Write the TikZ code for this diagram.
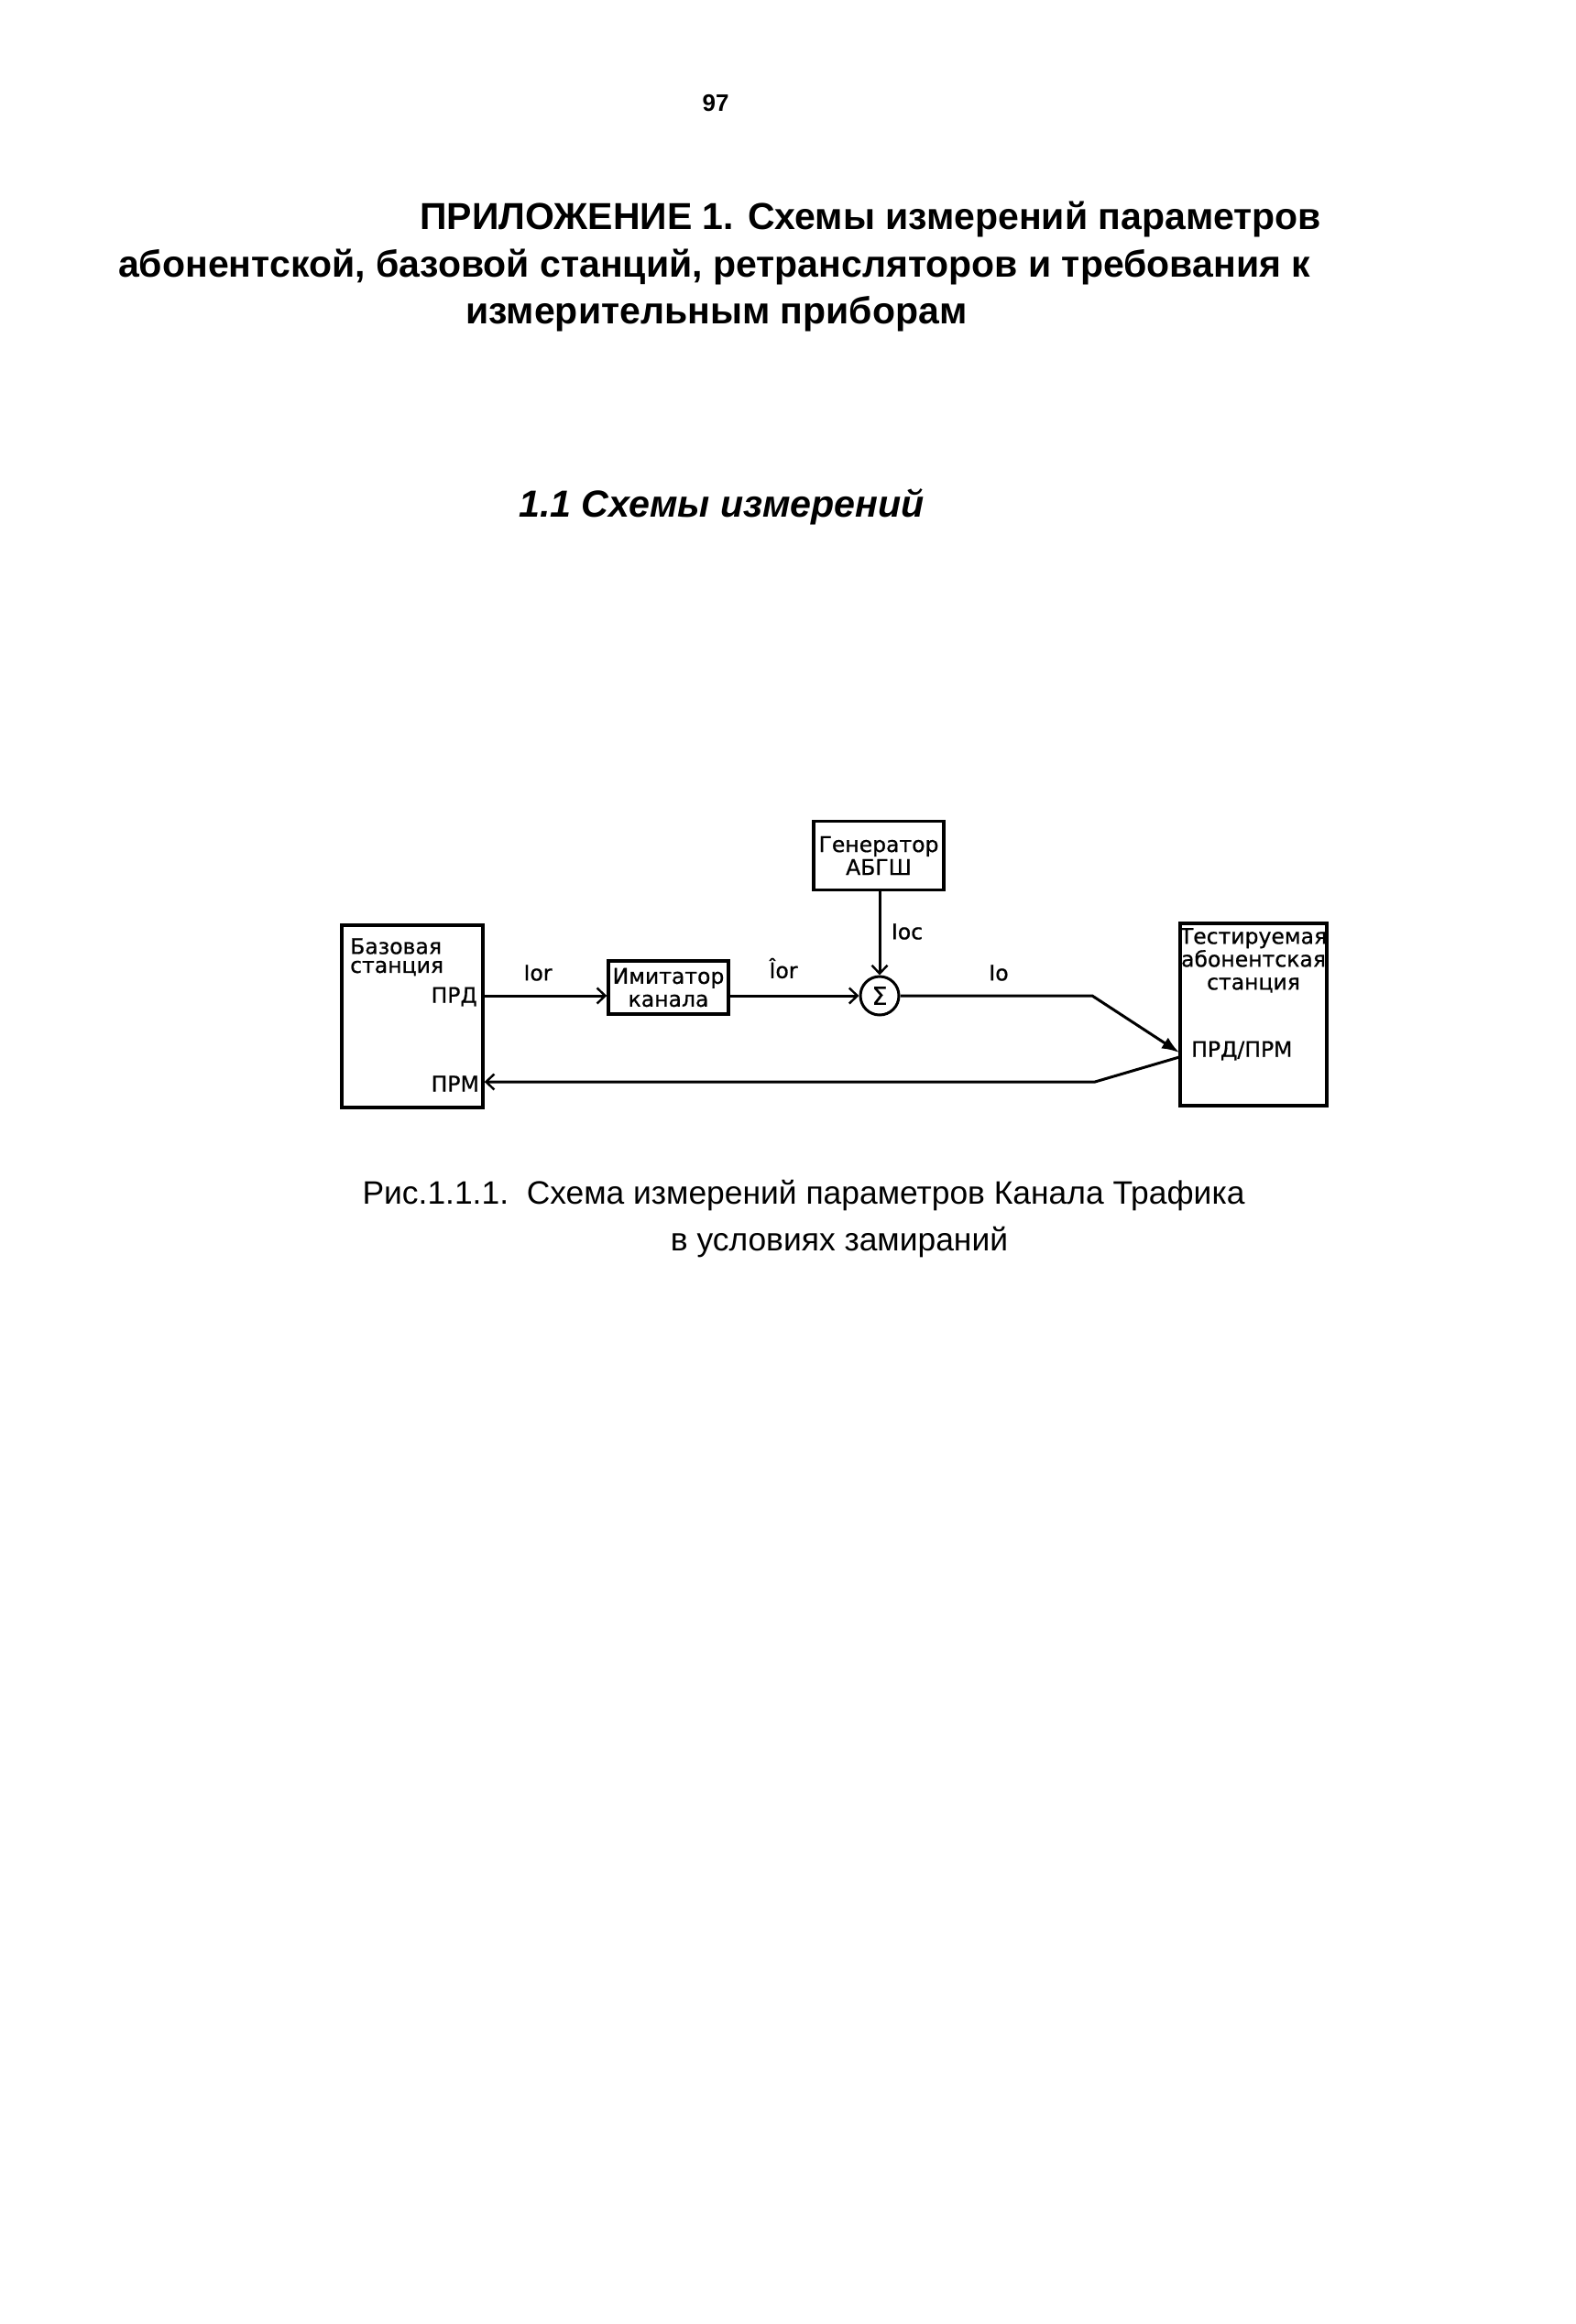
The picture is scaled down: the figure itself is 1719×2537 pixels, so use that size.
\documentclass[tikz,border=0pt]{standalone}
\usepackage{fontspec}
\setmainfont{Liberation Sans}
\newfontfamily\diagfont[FakeBold=0.7]{DejaVu Sans}
\usetikzlibrary{arrows.meta}
\begin{document}
\begin{tikzpicture}[x=1pt,y=-1pt,
  box/.style={draw,line width=3.4pt,inner sep=0pt,font=\diagfont\fontsize{23.5}{25}\selectfont,align=center},
  lab/.style={inner sep=0pt,font=\diagfont\fontsize{23.5}{25}\selectfont},
  conn/.style={line width=3pt},
  barb/.style={-{Straight Barb[length=9pt,width=17pt,line width=2.4pt]}},
  tri/.style={-{Latex[length=19pt,width=14pt]}},
  ttl/.style={inner sep=0pt,anchor=west,font=\bfseries\fontsize{41}{48}\selectfont},
  captext/.style={inner sep=0pt,font=\fontsize{35.4}{40}\selectfont}]
\useasboundingbox (0,0) rectangle (1719,2537);
\fill[white] (0,0) rectangle (1719,2537);
% page number and headings
\node[inner sep=0pt,font=\bfseries\fontsize{26}{30}\selectfont] (pg) at (781,113) {97};
\node[ttl] (t1) at (458,239) {ПРИЛОЖЕНИЕ 1. Схемы измерений параметров};
\node[ttl] (t2) at (129,291) {абонентской, базовой станций, ретрансляторов и требования к};
\node[ttl] (t3) at (508,343) {измерительным приборам};
\node[ttl,font=\bfseries\itshape\fontsize{41.2}{48}\selectfont] (h1) at (566,553) {1.1 Схемы измерений};
% boxes
\node[box,minimum width=154pt,minimum height=199pt] (base) at (450,1109.5) {};
\node[lab,anchor=west] (baset) at (382,1033) {Базовая};
\node[lab,anchor=west] (bases) at (382,1057) {станция};
\node[lab,anchor=east] (prd) at (521,1088) {ПРД};
\node[lab,anchor=east] (prm) at (523,1183) {ПРМ};
\node[box,minimum width=131pt,minimum height=58pt] (imit) at (729.5,1078) {Имитатор\\канала};
\node[box,minimum width=142pt,minimum height=75pt] (gen) at (959,934) {Генератор\\АБГШ};
\node[draw,circle,line width=3pt,minimum size=42pt,inner sep=0pt,font=\diagfont\fontsize{27}{28}\selectfont] (sum) at (960,1087) {Σ};
\node[box,minimum width=160pt,minimum height=199pt] (test) at (1368,1107.5) {};
\node[lab,align=center,anchor=north] (testt) at (1368,1013) {Тестируемая\\абонентская\\станция};
\node[lab,anchor=west] (tprm) at (1300,1147) {ПРД/ПРМ};
% labels
\node[lab] (l1) at (587,1062) {Ior};
\node[lab] (l2) at (855,1057) {Îor};
\node[lab] (l3) at (990,1017) {Ioc};
\node[lab] (l4) at (1090,1062) {Io};
% connectors
\coordinate (a1) at (521,1087);
\coordinate (b1) at (1192,1087);
\coordinate (tin) at (1287,1149);
\coordinate (tout) at (1287,1154);
\coordinate (b2) at (1195,1181);
\draw[conn,barb] (base.east |- a1) -- (imit.west |- a1);
\draw[conn,barb] (imit.east |- sum.west) -- (sum.west);
\draw[conn,barb] (gen.south -| sum.north) -- (sum.north);
\draw[conn,tri] (sum.east) -- (b1) -- (tin);
\draw[conn,barb] (tout) -- (b2) -- (base.east |- b2);
% caption
\node[captext] (c1) at (877,1305) {Рис.1.1.1.\ \ Схема измерений параметров Канала Трафика};
\node[captext] (c2) at (916,1356) {в условиях замираний};
\end{tikzpicture}
\end{document}
